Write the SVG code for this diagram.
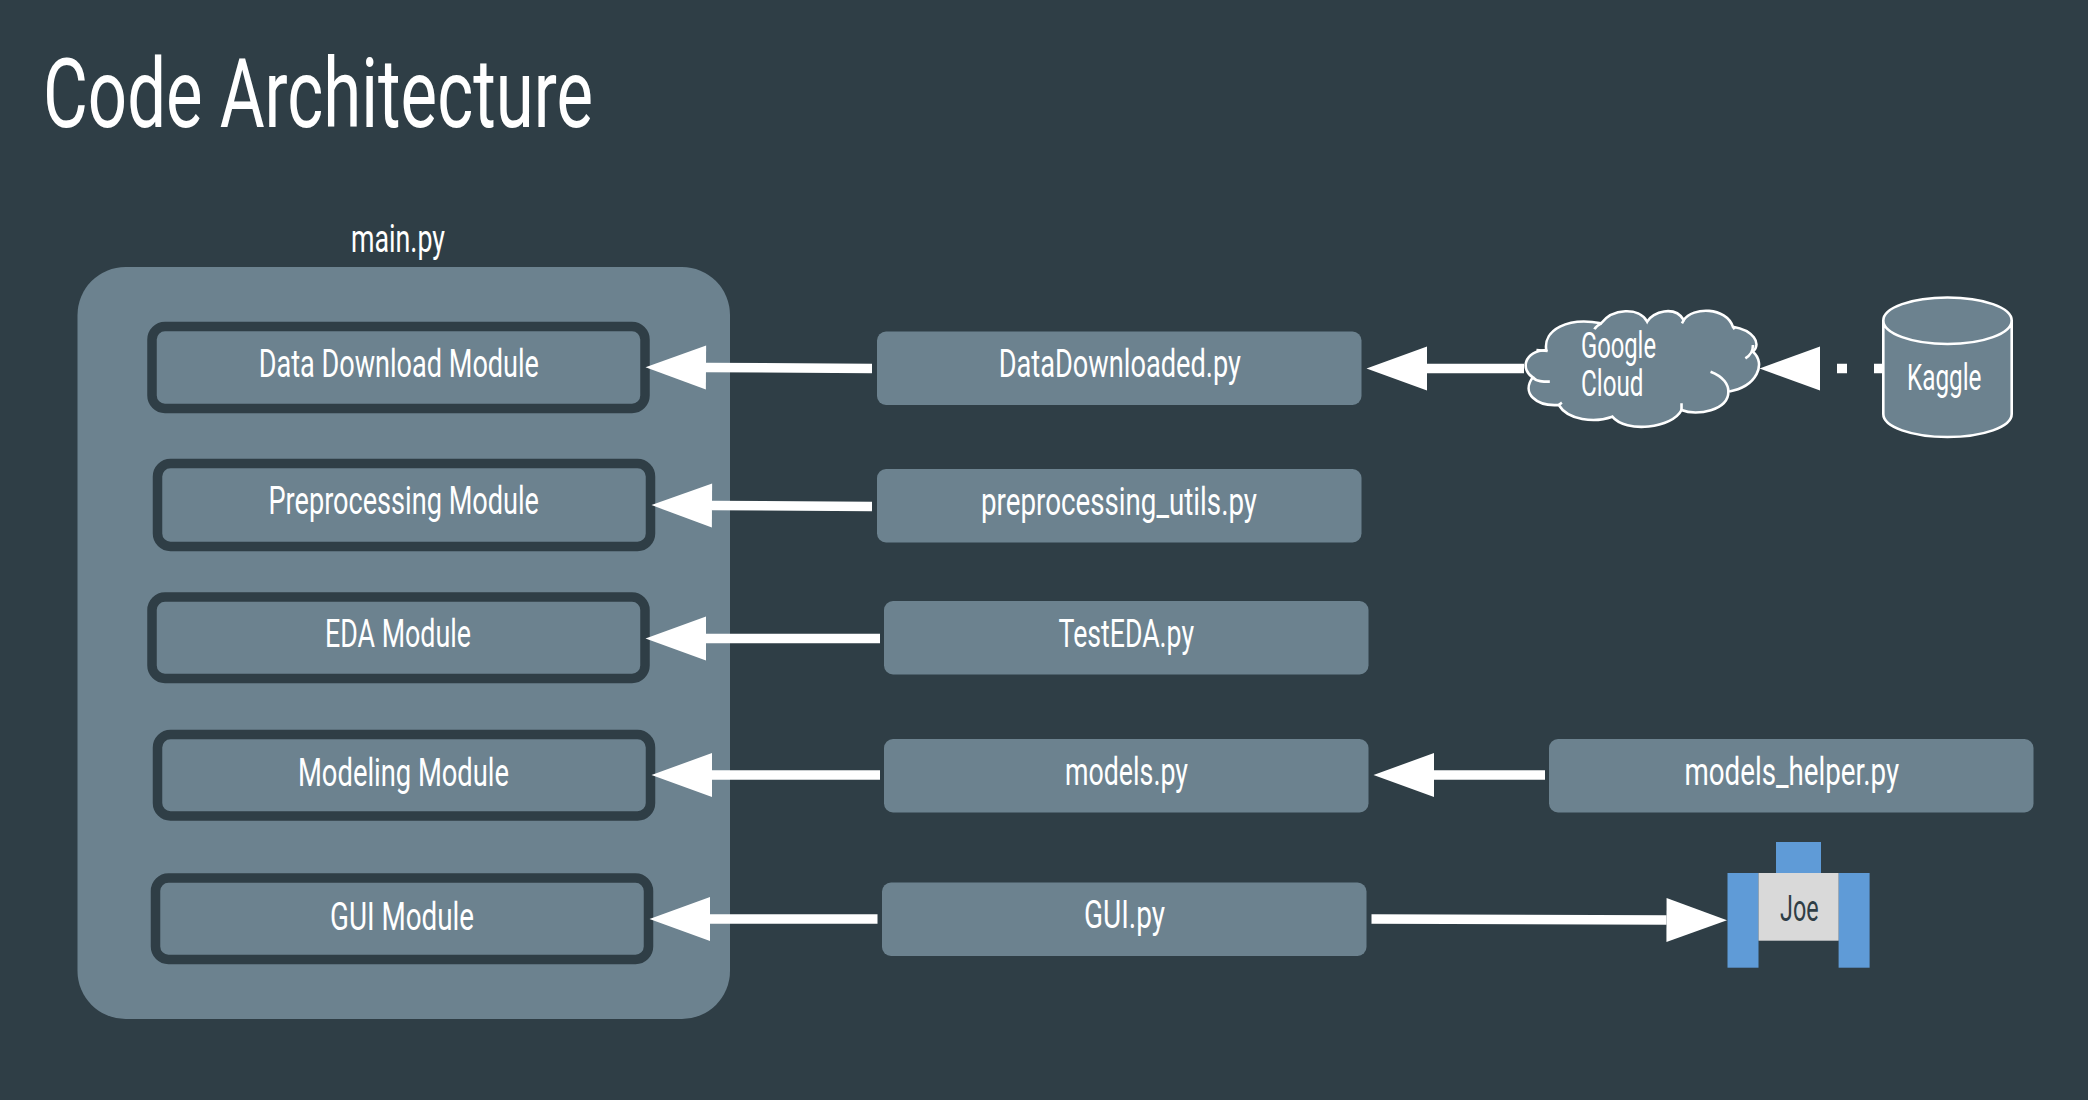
<svg xmlns="http://www.w3.org/2000/svg" width="2088" height="1100" viewBox="0 0 2088 1100">
<style>
text{font-family:"Liberation Sans Narrow",Roboto,"Liberation Sans",sans-serif;fill:#fff;font-size:39px;font-weight:400}
.title{font-size:96px}
.small{font-size:36px}
.dark{fill:#2f3e46}
.mod{fill:#6c828f;stroke:#2f3e46;stroke-width:9.500}
.file{fill:#6c828f}
.blue{fill:#5f9bd7}
.conn{stroke:#fff;stroke-width:9.500;fill:none;marker-end:url(#head)}
.outline{fill:#6c828f;stroke:#fff;stroke-width:2.600}
.line{fill:none;stroke:#fff;stroke-width:2.600;vector-effect:non-scaling-stroke}
</style>
<defs>
<marker id="head" markerUnits="userSpaceOnUse" markerWidth="62" markerHeight="46" refX="0" refY="22" orient="auto" overflow="visible"><polygon points="0,0 60.500,22 0,44" fill="#fff"/></marker>
</defs>
<rect width="2088" height="1100" fill="#2f3e46"/>
<text id="title" class="title" x="43" y="127" textLength="550" lengthAdjust="spacingAndGlyphs">Code Architecture</text>
<g id="main">
<text x="351" y="251.500" textLength="94" lengthAdjust="spacingAndGlyphs">main.py</text>
<rect x="77.500" y="267" width="652.500" height="752" rx="48" class="file"/>
</g>
<g id="mod-download"><rect class="mod" x="152" y="326.500" width="493" height="82" rx="13"/><text x="258.700" y="376.700" textLength="280.300" lengthAdjust="spacingAndGlyphs">Data Download Module</text></g>
<g id="mod-preprocessing"><rect class="mod" x="157.500" y="463.500" width="493" height="83" rx="13"/><text x="268.500" y="514" textLength="270.500" lengthAdjust="spacingAndGlyphs">Preprocessing Module</text></g>
<g id="mod-eda"><rect class="mod" x="152" y="597" width="493" height="81.500" rx="13"/><text x="325" y="646.500" textLength="146" lengthAdjust="spacingAndGlyphs">EDA Module</text></g>
<g id="mod-modeling"><rect class="mod" x="157.500" y="734.500" width="493" height="81.500" rx="13"/><text x="298" y="786" textLength="211" lengthAdjust="spacingAndGlyphs">Modeling Module</text></g>
<g id="mod-gui"><rect class="mod" x="155.500" y="878" width="493" height="81.500" rx="13"/><text x="330" y="930" textLength="144" lengthAdjust="spacingAndGlyphs">GUI Module</text></g>
<g id="file-data"><rect class="file" x="877" y="331.500" width="484.500" height="73.500" rx="9"/><text x="998.700" y="377" textLength="242.300" lengthAdjust="spacingAndGlyphs">DataDownloaded.py</text></g>
<g id="file-pre"><rect class="file" x="877" y="469" width="484.500" height="73.500" rx="9"/><text x="981" y="514.500" textLength="276" lengthAdjust="spacingAndGlyphs">preprocessing_utils.py</text></g>
<g id="file-eda"><rect class="file" x="884" y="601" width="484.500" height="73.500" rx="9"/><text x="1058.600" y="647" textLength="135.400" lengthAdjust="spacingAndGlyphs">TestEDA.py</text></g>
<g id="file-models"><rect class="file" x="884" y="739" width="484.500" height="73.500" rx="9"/><text x="1065" y="784.500" textLength="123" lengthAdjust="spacingAndGlyphs">models.py</text></g>
<g id="file-helper"><rect class="file" x="1549" y="739" width="484.500" height="73.500" rx="9"/><text x="1684.500" y="784.500" textLength="214.500" lengthAdjust="spacingAndGlyphs">models_helper.py</text></g>
<g id="file-gui"><rect class="file" x="882" y="882.500" width="484.500" height="73.500" rx="9"/><text x="1084" y="928" textLength="81" lengthAdjust="spacingAndGlyphs">GUI.py</text></g>
<g id="cloud">
<g transform="translate(1340,270) scale(.44643,.33333)">
<path class="line" style="fill:#6c828f" d="M432,322C405,300 410,245 462,240C455,180 510,140 585,160C610,115 670,110 688,155C700,125 750,105 770,150C790,110 865,110 880,170C925,180 945,220 925,245C955,280 935,350 870,365C870,420 800,440 765,420C745,475 640,490 610,440C570,460 510,450 490,405C440,410 405,370 432,322Z"/>
<path class="line" d="M440,240L465,243M432,322C440,335 455,335 470,335M830,305C860,320 870,345 870,365M908,265C920,255 925,245 925,225M585,160C578,165 572,172 570,178M770,150L766,160M880,170L884,178M490,405L497,398M765,420L765,400"/>
</g>
<text class="small" x="1581" y="357.500" textLength="75" lengthAdjust="spacingAndGlyphs">Google</text>
<text class="small" x="1581" y="396" textLength="62.500" lengthAdjust="spacingAndGlyphs">Cloud</text>
</g>
<g id="kaggle">
<path class="outline" d="M1883.300,320.500V414C1883.300,427 1912,437 1947.500,437S2011.700,427 2011.700,414V320.500C2011.700,307.500 1983,297.500 1947.500,297.500S1883.300,307.500 1883.300,320.500C1883.300,333.500 1912,344 1947.500,344S2011.700,333.500 2011.700,320.500"/>
<text class="small" x="1907" y="390" textLength="74.500" lengthAdjust="spacingAndGlyphs">Kaggle</text>
</g>
<g id="joe">
<rect class="blue" x="1776" y="842" width="45" height="31"/>
<rect class="blue" x="1727.500" y="873" width="31" height="94.700"/>
<rect class="blue" x="1838.600" y="873" width="31" height="94.700"/>
<rect x="1758.500" y="873" width="80.100" height="67.700" fill="#d9d9d9"/>
<text class="dark small" x="1780" y="920.700" textLength="38.600" lengthAdjust="spacingAndGlyphs">Joe</text>
</g>
<g id="connectors">
<line class="conn" x1="872" y1="368.500" x2="706" y2="367.500"/>
<line class="conn" x1="872" y1="506.500" x2="712" y2="505.500"/>
<line class="conn" x1="880" y1="638.500" x2="706" y2="638.500"/>
<line class="conn" x1="880" y1="775" x2="712" y2="775"/>
<line class="conn" x1="877.500" y1="919" x2="710" y2="919"/>
<line class="conn" x1="1524" y1="368.500" x2="1427" y2="368.500"/>
<line class="conn" x1="1884" y1="368.500" x2="1820" y2="368.500" stroke-dasharray="10 27"/>
<line class="conn" x1="1545" y1="775" x2="1434" y2="775"/>
<line class="conn" x1="1371.500" y1="919" x2="1666.500" y2="920"/>
</g>
</svg>
